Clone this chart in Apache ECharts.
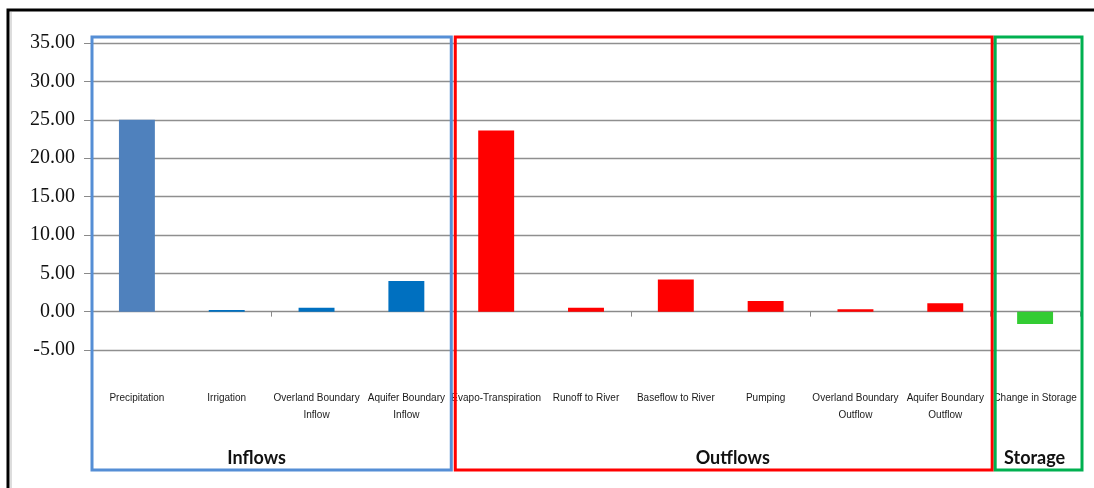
<!DOCTYPE html>
<html>
<head>
<meta charset="utf-8">
<script src="https://cdn.jsdelivr.net/npm/echarts@6/dist/echarts.min.js"></script>
<style>
html,body{margin:0;padding:0;background:#fff;}
#c{width:1094px;height:488px;}
</style>
</head>
<body>
<div id="c"></div>
<script>
var categories = ['Precipitation','Irrigation','Overland Boundary\nInflow','Aquifer Boundary\nInflow',
  'Evapo-Transpiration','Runoff to River','Baseflow to River','Pumping',
  'Overland Boundary\nOutflow','Aquifer Boundary\nOutflow','Change in Storage'];
var inflows  = [25.0, 0.2, 0.5, 4.0, null, null, null, null, null, null, null];
var outflows = [null, null, null, null, 23.6, 0.5, 4.2, 1.4, 0.3, 1.1, null];
var storage  = [null, null, null, null, null, null, null, null, null, null, -1.6];
var yTicks = {min: -5, max: 35, interval: 5};
var groups = [
  {name: 'Inflows',  from: 0,  to: 3,  color: '#558ED5'},
  {name: 'Outflows', from: 4,  to: 9,  color: '#FF0000'},
  {name: 'Storage',  from: 10, to: 10, color: '#00B050'}
];

var chart = echarts.init(document.getElementById('c'), null, {renderer: 'canvas'});

var inflowData = inflows.map(function (v, i) {
  if (v === null) return null;
  return {value: v, itemStyle: {color: i === 0 ? '#4F81BD' : '#0070C0'}};
});

var option = {
  animation: false,
  backgroundColor: '#ffffff',
  grid: {left: 92, right: 14, top: 43, bottom: 138, containLabel: false},
  xAxis: [
    {
      type: 'category', data: categories,
      axisLine: {show: true, onZero: true, lineStyle: {color: '#8a8a8a', width: 1}},
      axisTick: {show: true, length: 5, alignWithLabel: false, lineStyle: {color: '#8a8a8a'}},
      axisLabel: {show: false},
      splitLine: {show: false}
    },
    {
      type: 'category', data: categories, position: 'bottom',
      axisLine: {show: false, onZero: false},
      axisTick: {show: false},
      axisLabel: {
        show: true, interval: 0, margin: 40,
        fontFamily: '"Liberation Sans", Arial, sans-serif',
        fontSize: 10, lineHeight: 17, color: '#1a1a1a', align: 'center'
      }
    }
  ],
  yAxis: {
    type: 'value', min: yTicks.min, max: yTicks.max, interval: yTicks.interval,
    axisLine: {show: false},
    axisTick: {show: true, length: 8, lineStyle: {color: '#8a8a8a'}},
    axisLabel: {
      margin: 17, fontFamily: '"Liberation Serif", serif', fontSize: 20, color: '#111',
      formatter: function (v) { return v.toFixed(2); }
    },
    splitLine: {show: true, lineStyle: {color: '#8f8f8f', width: 1.3}}
  },
  series: [
    {name: 'Inflows', type: 'bar', stack: 's', xAxisIndex: 0, barWidth: '40%', data: inflowData},
    {name: 'Outflows', type: 'bar', stack: 's', xAxisIndex: 0, barWidth: '40%', itemStyle: {color: '#FF0000'}, data: outflows},
    {name: 'Storage', type: 'bar', stack: 's', xAxisIndex: 0, barWidth: '40%', itemStyle: {color: '#33CC33'}, data: storage}
  ]
};
chart.setOption(option);

// decorations: group boxes tied to category positions
var c0 = chart.convertToPixel({xAxisIndex: 0}, 0);
var c1 = chart.convertToPixel({xAxisIndex: 0}, 1);
var band = c1 - c0;
function bStart(i) { return c0 + (i - 0.5) * band; }
var boxTop = 37, boxBottom = 470;
var pads = [[0, 0], [4, 2], [5, 2]];
var labelShift = [-15, 9, -4];
var elements = [];
groups.forEach(function (g, k) {
  var x1 = bStart(g.from) + pads[k][0];
  var x2 = bStart(g.to + 1) + pads[k][1];
  elements.push({
    type: 'rect', z: 100,
    shape: {x: x1, y: boxTop, width: x2 - x1, height: boxBottom - boxTop},
    style: {fill: 'none', stroke: g.color, lineWidth: 3}
  });
  elements.push({
    type: 'text', z: 101,
    x: (x1 + x2) / 2 + labelShift[k], y: 458,
    style: {text: g.name, fill: '#111', font: 'bold 18px Lato, "Open Sans", sans-serif',
      align: 'center', verticalAlign: 'middle'}
  });
});
// outer frame (top and left edges visible)
elements.push({
  type: 'polyline', z: 100,
  shape: {points: [[8, 488], [8, 10], [1094, 10]]},
  style: {fill: 'none', stroke: '#000', lineWidth: 3}
});
elements.push({
  type: 'line', z: 100,
  shape: {x1: 11, y1: 12, x2: 11, y2: 488},
  style: {stroke: '#bbbbbb', lineWidth: 1}
});
chart.setOption({graphic: {elements: elements}});
</script>
</body>
</html>
